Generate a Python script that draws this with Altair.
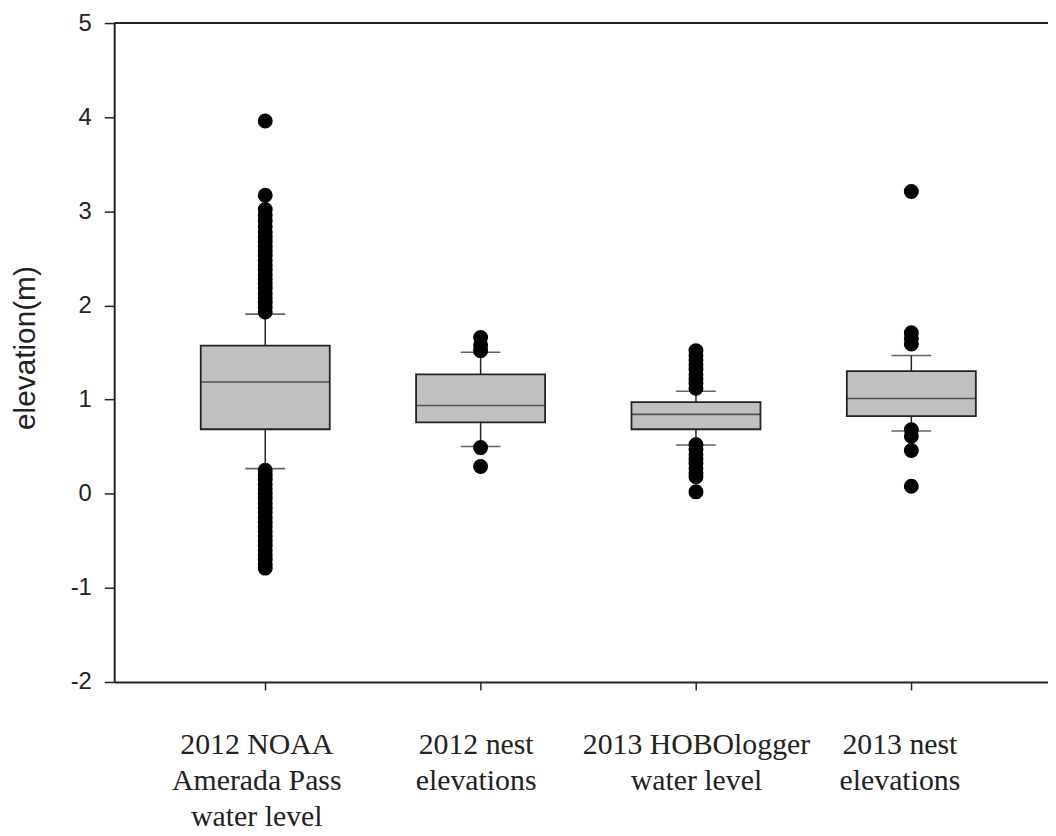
import altair as alt
import pandas as pd

categories = ["2012 NOAA|Amerada Pass|water level", "2012 nest|elevations",
              "2013 HOBOlogger|water level", "2013 nest|elevations"]
q1 = [0.685, 0.759, 0.685, 0.825]
median = [1.187, 0.938, 0.843, 1.012]
q3 = [1.574, 1.268, 0.973, 1.303]
whisk_lo = [0.267, 0.502, 0.517, 0.667]
whisk_hi = [1.908, 1.503, 1.089, 1.468]

outliers_noaa = [3.96, 3.17, 3.02, 2.96, 2.90, 2.84, 2.78, 2.73, 2.68, 2.63, 2.58, 2.53,
                 2.48, 2.43, 2.38, 2.33, 2.28, 2.23, 2.18, 2.13, 2.08, 2.03, 1.98, 1.93,
                 0.25, 0.20, 0.15, 0.10, 0.05, 0.00, -0.05, -0.10, -0.15, -0.20, -0.25,
                 -0.30, -0.35, -0.40, -0.45, -0.50, -0.55, -0.60, -0.65, -0.70, -0.75, -0.79]
outliers_nest12 = [1.66, 1.58, 1.52, 0.49, 0.29]
outliers_hobo = [1.52, 1.47, 1.42, 1.37, 1.32, 1.27, 1.22, 1.17, 1.12,
                 0.52, 0.47, 0.42, 0.37, 0.32, 0.27, 0.22, 0.18, 0.02]
outliers_nest13 = [3.21, 1.71, 1.65, 1.59, 0.68, 0.61, 0.46, 0.08]
y_ticks = [-2, -1, 0, 1, 2, 3, 4, 5]

boxes = pd.DataFrame({"cat": categories, "q1": q1, "median": median, "q3": q3,
                      "lo": whisk_lo, "hi": whisk_hi})
out_rows = []
for c, vals in zip(categories, [outliers_noaa, outliers_nest12, outliers_hobo, outliers_nest13]):
    for v in vals:
        out_rows.append({"cat": c, "v": v})
outs = pd.DataFrame(out_rows)

INK = "#222222"
xscale = alt.Scale(type="point", domain=categories, padding=0.668, align=0.525)
yscale = alt.Scale(domain=[-2, 5], nice=False, zero=False)

x_axis = alt.Axis(
    title=None, labelExpr="split(datum.label, '|')", labelFont="Liberation Serif",
    labelFontSize=30, labelLineHeight=36.5, labelColor=INK, labelPadding=40,
    labelLimit=600, labelOverlap=False,
    tickSize=8, tickColor=INK, tickWidth=1.5, domainColor=INK, domainWidth=2,
    labelAngle=0,
    labelOffset={"condition": [
        {"test": "datum.value === '2012 NOAA|Amerada Pass|water level'", "value": -9},
        {"test": "datum.value === '2012 nest|elevations'", "value": -5},
        {"test": "datum.value === '2013 nest|elevations'", "value": -12}], "value": 0},
)
y_axis = alt.Axis(
    title="elevation(m)", values=y_ticks, grid=False,
    labelExpr="'' + datum.value",
    labelFont="Liberation Sans", labelFontSize=24, labelColor=INK, labelPadding=13,
    tickSize=10, tickColor=INK, tickWidth=1.5, domainColor=INK, domainWidth=2,
    titleFont="Liberation Sans", titleFontSize=30, titleFontWeight="normal",
    titleColor=INK, titleAngle=-90, titleX=-89, titleY=327, titleAlign="center",
    titleBaseline="middle",
)

base = alt.Chart(boxes)

whiskers = base.mark_rule(color=INK, strokeWidth=1.5).encode(
    x=alt.X("cat:N", scale=xscale, axis=x_axis, sort=categories),
    y=alt.Y("lo:Q", scale=yscale, axis=y_axis), y2="hi:Q")
box = base.mark_bar(size=130, fill="#c0c0c0", stroke=INK, strokeWidth=1.8).encode(
    x=alt.X("cat:N", scale=xscale, sort=categories), y=alt.Y("q1:Q", scale=yscale), y2="q3:Q")
med = base.mark_tick(size=130, thickness=1.6, color=INK).encode(
    x=alt.X("cat:N", scale=xscale, sort=categories), y=alt.Y("median:Q", scale=yscale))
cap_hi = base.mark_tick(size=40, thickness=1.6, color=INK).encode(
    x=alt.X("cat:N", scale=xscale, sort=categories), y=alt.Y("hi:Q", scale=yscale))
cap_lo = base.mark_tick(size=40, thickness=1.6, color=INK).encode(
    x=alt.X("cat:N", scale=xscale, sort=categories), y=alt.Y("lo:Q", scale=yscale))
pts = alt.Chart(outs).mark_circle(size=227, color="black", opacity=1).encode(
    x=alt.X("cat:N", scale=xscale, sort=categories), y=alt.Y("v:Q", scale=yscale))
top = alt.Chart(pd.DataFrame({"t": [5]})).mark_rule(color=INK, strokeWidth=2).encode(
    y=alt.Y("t:Q", scale=yscale))

chart = alt.layer(whiskers, box, med, cap_hi, cap_lo, pts, top).properties(
    width=941, height=664,
    autosize=alt.AutoSizeParams(type="none"),
    padding={"left": 107, "top": 12, "right": 0, "bottom": 150},
).configure_view(stroke=None).configure(background="white")

chart.save("out.html", embed_options={"renderer": "svg", "actions": False})
